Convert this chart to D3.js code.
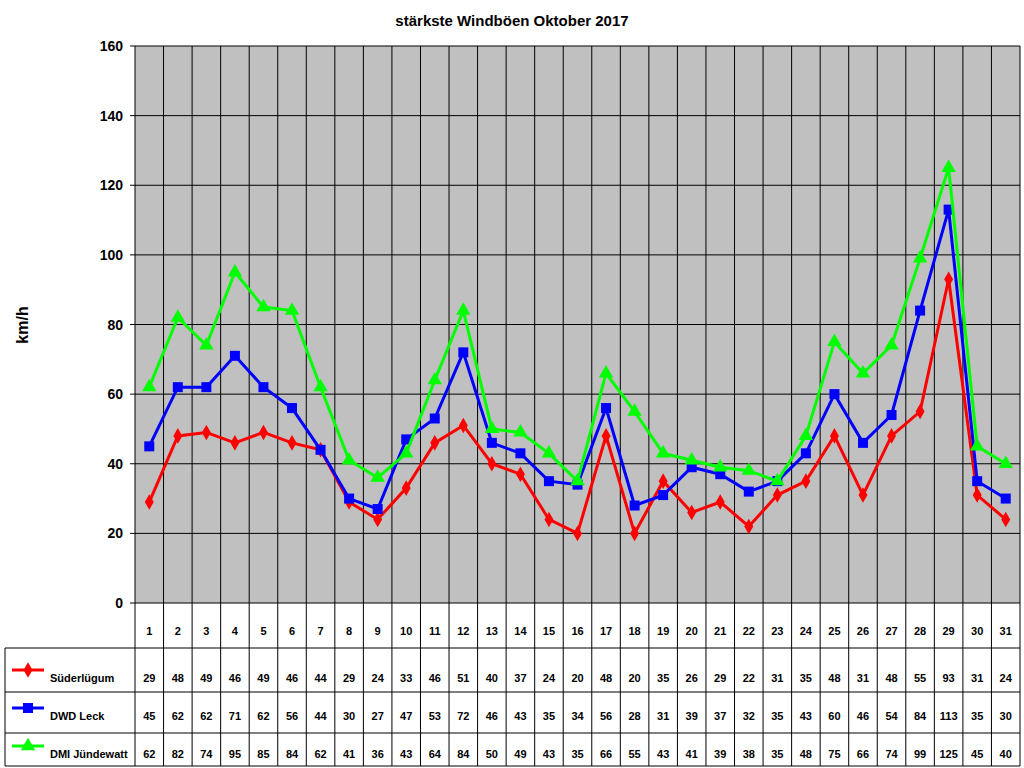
<!DOCTYPE html><html><head><meta charset="utf-8"><script src="https://d3js.org/d3.v7.min.js"></script>
<style>body{margin:0;background:#fff}text{font-family:Arial,"Liberation Sans",sans-serif}</style></head><body>
<svg width="1024" height="768"></svg>
<script>
const days=d3.range(1,32).map(String);
const suederluegum=[29,48,49,46,49,46,44,29,24,33,46,51,40,37,24,20,48,20,35,26,29,22,31,35,48,31,48,55,93,31,24];
const dwdLeck=[45,62,62,71,62,56,44,30,27,47,53,72,46,43,35,34,56,28,31,39,37,32,35,43,60,46,54,84,113,35,30];
const dmiJuendewatt=[62,82,74,95,85,84,62,41,36,43,64,84,50,49,43,35,66,55,43,41,39,38,35,48,75,66,74,99,125,45,40];
const seriesNames=["Süderlügum","DWD Leck","DMI Jündewatt"];
const colors=["#ff0000","#0000ff","#00ff00"];
const yTicks=[0,20,40,60,80,100,120,140,160];
const series=[suederluegum,dwdLeck,dmiJuendewatt];
const svg=d3.select("svg");
const L=135,R=1020,T=46,B=603,bottom=766;
const x=d3.scaleBand().domain(days).range([L,R]);
const y=d3.scaleLinear().domain([0,160]).range([B,T]);
svg.append("rect").attr("x",L).attr("y",T).attr("width",R-L).attr("height",B-T).attr("fill","#c0c0c0");
yTicks.forEach(t=>{svg.append("line").attr("x1",L).attr("x2",R).attr("y1",y(t)).attr("y2",y(t)).attr("stroke","#000");
 svg.append("line").attr("x1",L-5).attr("x2",L).attr("y1",y(t)).attr("y2",y(t)).attr("stroke","#000");
 svg.append("text").attr("x",L-12).attr("y",y(t)+5).attr("text-anchor","end").attr("font-size",14).attr("font-weight","bold").text(t);});
days.forEach(d=>svg.append("line").attr("x1",x(d)).attr("x2",x(d)).attr("y1",T).attr("y2",bottom).attr("stroke","#000"));
svg.append("line").attr("x1",R).attr("x2",R).attr("y1",T).attr("y2",bottom).attr("stroke","#000");
const rowY=[648,692,733];
rowY.forEach(r=>svg.append("line").attr("x1",5).attr("x2",R).attr("y1",r).attr("y2",r).attr("stroke","#000"));
svg.append("line").attr("x1",5).attr("x2",5).attr("y1",648).attr("y2",bottom).attr("stroke","#000");
svg.append("line").attr("x1",5).attr("x2",R).attr("y1",bottom).attr("y2",bottom).attr("stroke","#000");
const bw=x.bandwidth();
days.forEach(d=>svg.append("text").attr("x",x(d)+bw/2).attr("y",635).attr("text-anchor","middle").attr("font-size",11).attr("font-weight","bold").text(d));
const textY=[682,720,758];
const sym=[d3.symbolDiamond,d3.symbolSquare,d3.symbolTriangle];
const sz=[70,100,90];
series.forEach((s,i)=>{
 const line=d3.line().x((v,j)=>x(days[j])+bw/2).y(v=>y(v));
 svg.append("path").attr("d",line(s)).attr("fill","none").attr("stroke",colors[i]).attr("stroke-width",3);
 s.forEach((v,j)=>svg.append("path").attr("d",d3.symbol(sym[i],sz[i])()).attr("transform",`translate(${x(days[j])+bw/2},${y(v)})`).attr("fill",colors[i]));
 s.forEach((v,j)=>svg.append("text").attr("x",x(days[j])+bw/2).attr("y",textY[i]).attr("text-anchor","middle").attr("font-size",11).attr("font-weight","bold").text(v));
 const ly=textY[i]-12;
 svg.append("line").attr("x1",12).attr("x2",44).attr("y1",ly).attr("y2",ly).attr("stroke",colors[i]).attr("stroke-width",3);
 svg.append("path").attr("d",d3.symbol(sym[i],sz[i])()).attr("transform",`translate(28,${ly})`).attr("fill",colors[i]);
 svg.append("text").attr("x",50).attr("y",textY[i]).attr("font-size",11).attr("font-weight","bold").text(seriesNames[i]);
});
svg.append("text").attr("x",512).attr("y",26).attr("text-anchor","middle").attr("font-size",15).attr("font-weight","bold").text("stärkste Windböen Oktober 2017");
svg.append("text").attr("transform","translate(28,325) rotate(-90)").attr("text-anchor","middle").attr("font-size",16).attr("font-weight","bold").text("km/h");
</script></body></html>
